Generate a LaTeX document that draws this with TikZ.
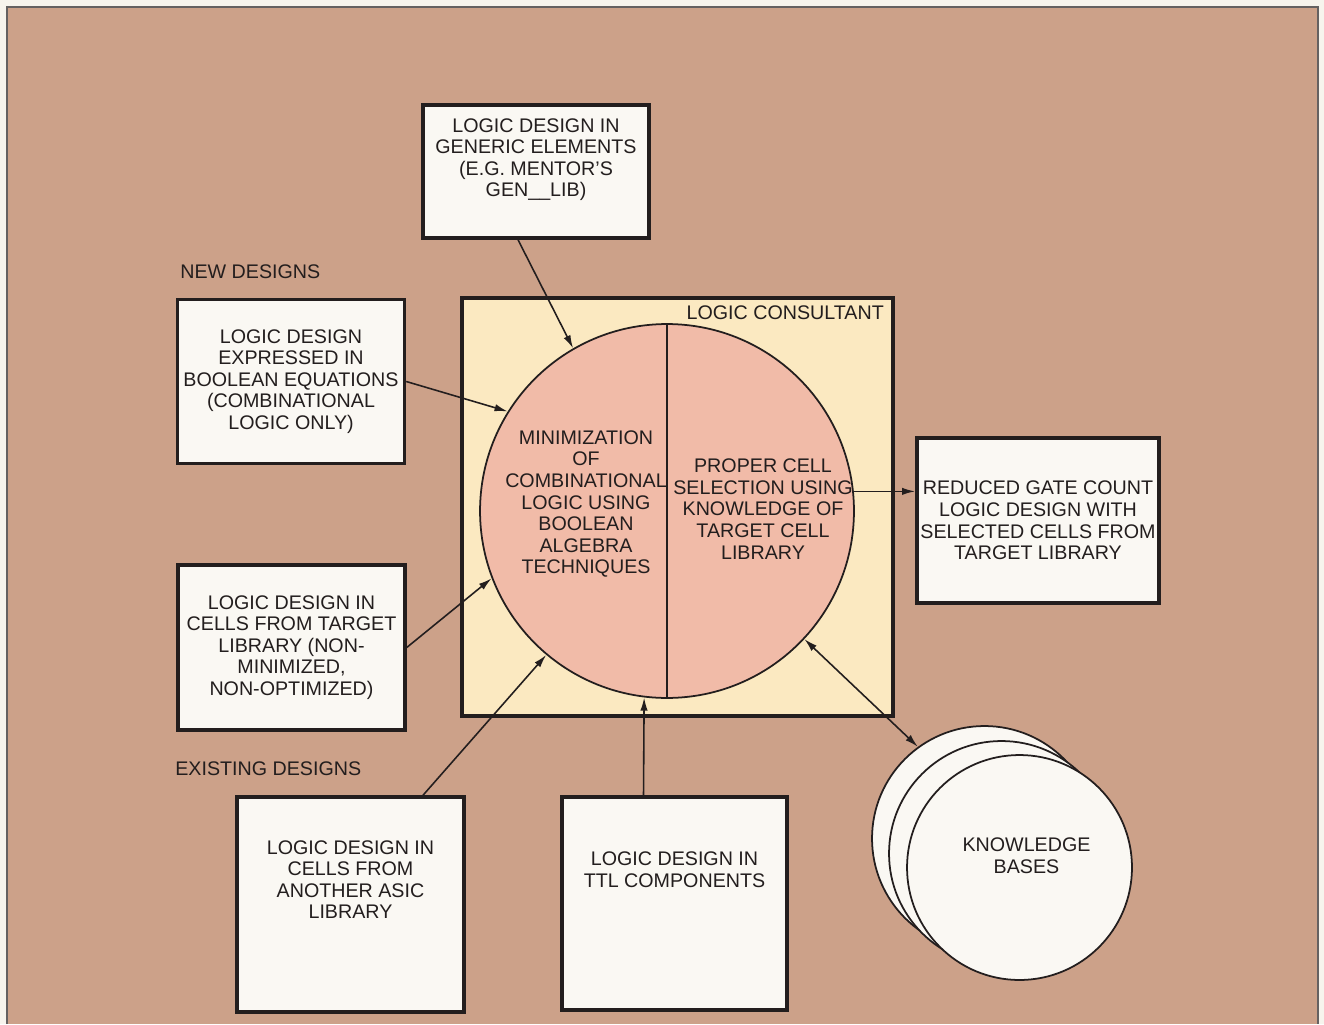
\documentclass[tikz,border=0pt]{standalone}
\usepackage{fontspec}
\setmainfont{Liberation Sans}
\usetikzlibrary{arrows.meta}

\definecolor{margin}{RGB}{247,244,237}
\definecolor{bgtan}{RGB}{204,161,137}
\definecolor{paper}{RGB}{250,248,243}
\definecolor{consult}{RGB}{251,233,193}
\definecolor{salmon}{RGB}{241,187,168}
\definecolor{ink}{RGB}{35,30,30}

\begin{document}
\begin{tikzpicture}[x=0.02cm, y=-0.02cm,
  every node/.style={align=center, font=\fontsize{11.2}{12.3}\selectfont, text=ink},
  box/.style={draw=ink, line width=2pt, fill=paper, minimum width=4.54cm, minimum height=3.3cm, inner sep=2pt},
  arr/.style={draw=ink, line width=0.9pt, -{Latex[length=7.5pt,width=4.2pt]}},
  dblarr/.style={draw=ink, line width=0.9pt, {Latex[length=7.5pt,width=4.2pt]}-{Latex[length=7.5pt,width=4.2pt]}},
  kb/.style={circle, draw=ink, line width=1pt, fill=paper, minimum size=4.5cm, inner sep=0pt}]
  % Page and tinted panel
  \useasboundingbox (0,0) rectangle (1324,1024);
  \fill[margin] (0,0) rectangle (1324,1024);
  \fill[bgtan] (7,7) rectangle (1318,1024);
  \draw[ink!70, line width=0.8pt] (7,1024) |- (1318,7) -- (1318,1024);

  % Logic consultant with its two halves
  \node[draw=ink, line width=2pt, fill=consult, minimum width=8.62cm, minimum height=8.36cm] (consult) at (677.5,507) {};
  \node[anchor=north east, inner xsep=6pt, inner ysep=5pt] (lclbl) at (consult.north east) {LOGIC CONSULTANT};
  \node[circle, draw=ink, line width=1pt, fill=salmon, minimum size=7.48cm, inner sep=0pt] (core) at (667,511) {};
  \draw[ink, line width=1pt] (core.north) -- (core.south);
  \node (minim) at (586,504) {MINIMIZATION\\OF\\COMBINATIONAL\\LOGIC USING\\BOOLEAN\\ALGEBRA\\TECHNIQUES};
  \node (select) at (763,509) {PROPER CELL\\SELECTION USING\\KNOWLEDGE OF\\TARGET CELL\\LIBRARY};

  % Inputs
  \node[box, minimum width=4.52cm, minimum height=2.66cm] (generic) at (536,171.5) {LOGIC DESIGN IN\\GENERIC ELEMENTS\\(E.G. MENTOR'S\\GEN\_\_LIB)\\[3.5pt]\mbox{}};
  \node[anchor=base west, inner sep=0pt] (newlbl) at (180,278) {NEW DESIGNS};
  \node[box, minimum height=3.28cm] (boolean) at (291,381.5) {LOGIC DESIGN\\EXPRESSED IN\\BOOLEAN EQUATIONS\\(COMBINATIONAL\\LOGIC ONLY)};
  \node[box] (target) at (291.5,647.5) {LOGIC DESIGN IN\\CELLS FROM TARGET\\LIBRARY (NON-\\MINIMIZED,\\NON-OPTIMIZED)};
  \node[anchor=base west, inner sep=0pt] (exlbl) at (175,775) {EXISTING DESIGNS};
  \node[box, minimum height=4.3cm] (asic) at (350.5,904.5) {LOGIC DESIGN IN\\CELLS FROM\\ANOTHER ASIC\\LIBRARY\\[16pt]\mbox{}};
  \node[box, minimum width=4.5cm, minimum height=4.26cm] (ttl) at (674.5,903.5) {LOGIC DESIGN IN\\TTL COMPONENTS\\[26pt]\mbox{}};

  % Output
  \node[box, minimum width=4.8cm] (reduced) at (1038,520.5) {REDUCED GATE COUNT\\LOGIC DESIGN WITH\\SELECTED CELLS FROM\\TARGET LIBRARY};

  % Knowledge bases (stacked)
  \node[kb] (kb3) at (984.5,838.5) {};
  \node[kb] (kb2) at (1001.5,853.5) {};
  \node[kb] (kb1) at (1019.5,867.5) {\hspace{8pt}KNOWLEDGE\\\hspace{8pt}BASES\\[1.2pt]\mbox{}};

  % Connectors
  \draw[arr] ([xshift=-0.36cm]generic.south) -- (core.120);
  \draw[arr] (boolean.east) -- (core.148);
  \draw[arr] (target.east) -- (core.201);
  \draw[arr] ([xshift=1.45cm]asic.north) -- (core.230);
  \draw[arr] ([xshift=-0.62cm]ttl.north) -- (core.263);
  \draw[arr] (core.6) -- (core.6 -| reduced.west);
  \draw[dblarr] (core.317) -- (kb3.126);
\end{tikzpicture}
\end{document}
